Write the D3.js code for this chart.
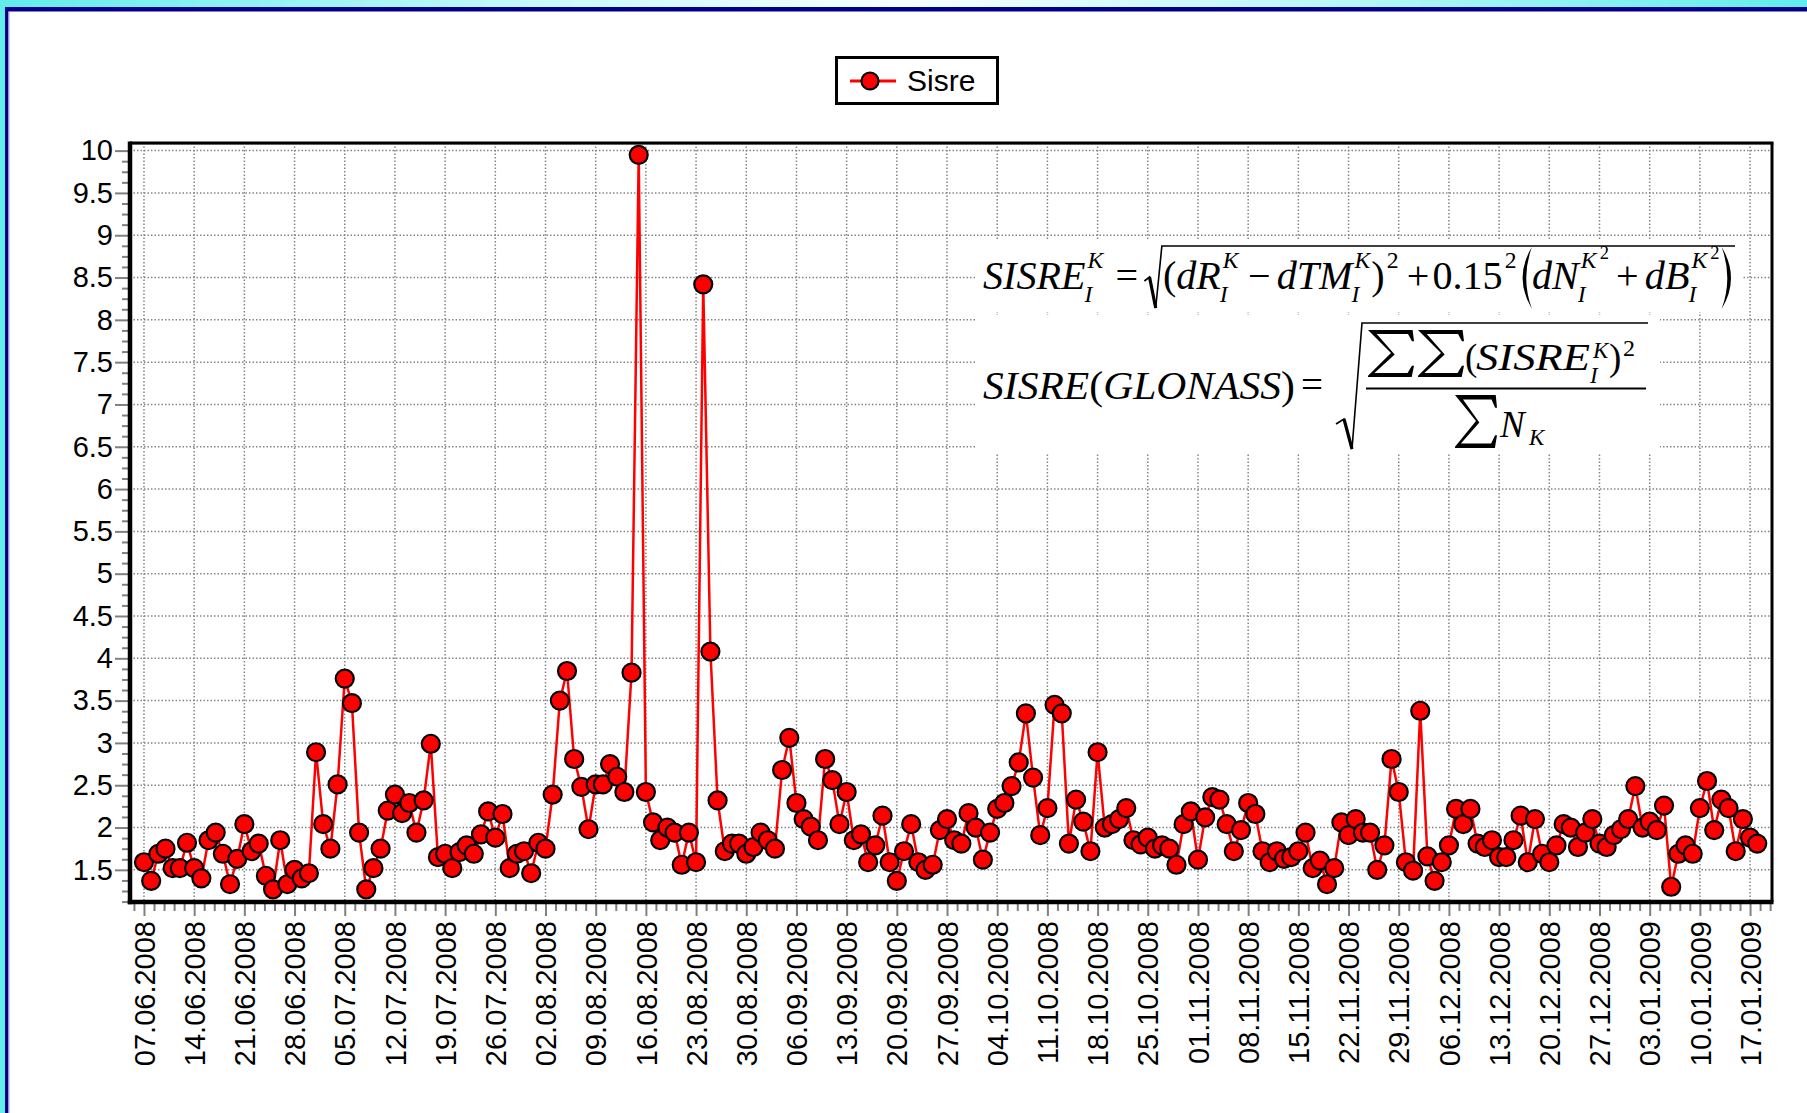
<!DOCTYPE html>
<html>
<head>
<meta charset="utf-8">
<script src="https://d3js.org/d3.v7.min.js"></script>
<style>
  body { margin: 0; background: #fff; }
  svg { display: block; }
</style>
</head>
<body>
<script>
// ---- data ----
var firstDay = "07.06.2008";
var seriesName = "Sisre";
// one value per day, 07.06.2008 .. 18.01.2009
var sisre = [
  1.59, 1.37, 1.69, 1.75, 1.52, 1.52, 1.82, 1.52, 1.40, 1.85,
  1.94, 1.69, 1.33, 1.63, 2.04, 1.72, 1.81, 1.43, 1.27, 1.85,
  1.33, 1.50, 1.40, 1.46, 2.89, 2.04, 1.75, 2.51, 3.76, 3.47,
  1.94, 1.27, 1.52, 1.75, 2.20, 2.39, 2.17, 2.29, 1.94, 2.32,
  2.99, 1.65, 1.69, 1.52, 1.71, 1.79, 1.69, 1.92, 2.19, 1.88,
  2.16, 1.52, 1.69, 1.72, 1.46, 1.82, 1.75, 2.39, 3.50, 3.85,
  2.81, 2.48, 1.98, 2.51, 2.51, 2.75, 2.60, 2.42, 3.83, 9.95,
  2.42, 2.06, 1.85, 2.00, 1.94, 1.56, 1.94, 1.59, 8.42, 4.08,
  2.32, 1.72, 1.81, 1.81, 1.69, 1.77, 1.94, 1.85, 1.75, 2.68,
  3.06, 2.29, 2.10, 2.01, 1.85, 2.81, 2.56, 2.04, 2.42, 1.85,
  1.92, 1.59, 1.79, 2.14, 1.59, 1.37, 1.72, 2.04, 1.59, 1.50,
  1.56, 1.97, 2.10, 1.85, 1.81, 2.17, 2.00, 1.62, 1.94, 2.22,
  2.29, 2.49, 2.77, 3.35, 2.59, 1.91, 2.23, 3.45, 3.35, 1.81,
  2.33, 2.07, 1.72, 2.89, 2.00, 2.04, 2.10, 2.23, 1.85, 1.80,
  1.88, 1.75, 1.79, 1.75, 1.56, 2.04, 2.19, 1.62, 2.12, 2.36,
  2.33, 2.04, 1.72, 1.97, 2.29, 2.16, 1.72, 1.59, 1.72, 1.63,
  1.65, 1.72, 1.94, 1.52, 1.61, 1.33, 1.52, 2.06, 1.91, 2.10,
  1.94, 1.94, 1.50, 1.79, 2.81, 2.42, 1.59, 1.49, 3.38, 1.66,
  1.37, 1.59, 1.79, 2.22, 2.04, 2.22, 1.81, 1.77, 1.85, 1.65,
  1.65, 1.85, 2.14, 1.59, 2.10, 1.69, 1.59, 1.79, 2.04, 2.00,
  1.77, 1.94, 2.10, 1.81, 1.77, 1.91, 1.98, 2.10, 2.49, 2.00,
  2.07, 1.97, 2.26, 1.30, 1.69, 1.79, 1.69, 2.23, 2.55, 1.97,
  2.33, 2.23, 1.72, 2.10, 1.88, 1.81
];
var xTickLabels = [
  "07.06.2008", "14.06.2008", "21.06.2008", "28.06.2008", "05.07.2008", "12.07.2008",
  "19.07.2008", "26.07.2008", "02.08.2008", "09.08.2008", "16.08.2008", "23.08.2008",
  "30.08.2008", "06.09.2008", "13.09.2008", "20.09.2008", "27.09.2008", "04.10.2008",
  "11.10.2008", "18.10.2008", "25.10.2008", "01.11.2008", "08.11.2008", "15.11.2008",
  "22.11.2008", "29.11.2008", "06.12.2008", "13.12.2008", "20.12.2008", "27.12.2008",
  "03.01.2009", "10.01.2009", "17.01.2009"
];
var yTickValues = [1.5, 2, 2.5, 3, 3.5, 4, 4.5, 5, 5.5, 6, 6.5, 7, 7.5, 8, 8.5, 9, 9.5, 10];

// ---- setup ----
var W = 1807, H = 1113;
var box = { l: 130, r: 1772, t: 143, b: 902 };
var DAY = 864e5;
var parse = d3.utcParse("%d.%m.%Y");
var fmt = d3.utcFormat("%d.%m.%Y");
var t0 = parse(firstDay);
function dayDate(d) { return new Date(t0.getTime() + d * DAY); }

var data = sisre.map(function (v, i) { return { date: dayDate(i), v: v }; });
var xTicks = xTickLabels.map(parse);

var x = d3.scaleUtc()
    .domain([dayDate(-1.95), dayDate(227.06)])
    .range([box.l, box.r]);
var y = d3.scaleLinear()
    .domain([1.12, 10.09])
    .range([box.b, box.t]);

var svg = d3.select("body").append("svg")
    .attr("width", W)
    .attr("height", H)
    .style("font-family", "'Liberation Sans', Arial, sans-serif");

// window frame (cyan band + dark blue border)
var grad = svg.append("defs").append("linearGradient")
    .attr("id", "band").attr("x1", 0).attr("x2", 1).attr("y1", 0).attr("y2", 0);
grad.selectAll("stop")
    .data([[0, "#62ecec"], [0.3, "#c8f9f9"], [0.5, "#f6ffff"], [0.75, "#b5f6f6"], [1, "#62ecec"]])
    .enter().append("stop")
    .attr("offset", function (d) { return d[0]; })
    .attr("stop-color", function (d) { return d[1]; });
svg.append("rect").attr("x", 0).attr("y", 0).attr("width", W).attr("height", 7).attr("fill", "url(#band)");
svg.append("rect").attr("x", 0).attr("y", 0).attr("width", 5).attr("height", H).attr("fill", "#62ecec");
svg.append("rect").attr("x", 5).attr("y", 7).attr("width", W - 5).attr("height", 4.5).attr("fill", "#00008b");
svg.append("rect").attr("x", 5).attr("y", 7).attr("width", 3.5).attr("height", H - 7).attr("fill", "#00008b");
svg.append("rect").attr("x", 8.5).attr("y", 11.5).attr("width", 1).attr("height", H - 11.5).attr("fill", "#a8a8e8");

// ---- grid ----
var grid = svg.append("g")
    .attr("stroke", "#858585")
    .attr("stroke-width", 1.5)
    .attr("stroke-dasharray", "1.5,2");
grid.selectAll("line.v")
    .data(xTicks)
    .enter().append("line")
    .attr("class", "v")
    .attr("x1", function (d) { return x(d); })
    .attr("x2", function (d) { return x(d); })
    .attr("y1", box.t)
    .attr("y2", box.b);
grid.selectAll("line.h")
    .data(yTickValues)
    .enter().append("line")
    .attr("class", "h")
    .attr("x1", box.l)
    .attr("x2", box.r)
    .attr("y1", function (d) { return y(d); })
    .attr("y2", function (d) { return y(d); });

// ---- formulas (pasted picture with white background) ----
svg.append("rect").attr("x", 976).attr("y", 239).attr("width", 766).attr("height", 73).attr("fill", "#fff");
svg.append("rect").attr("x", 976).attr("y", 315).attr("width", 684).attr("height", 138).attr("fill", "#fff");

var serif = "'Liberation Serif', 'Times New Roman', serif";

function txt(g, s, tx, ty, size, it) {
  var t = g.append("text").attr("x", tx).attr("y", ty).attr("font-size", size).text(s);
  if (it) t.attr("font-style", "italic");
  return t;
}

function sigma(g, sx, sy, w, h) {
  var p = [[0, 0], [0.97, 0], [1, 0.24], [0.955, 0.24], [0.87, 0.085], [0.19, 0.085], [0.58, 0.52],
           [0.14, 0.915], [0.86, 0.915], [0.955, 0.76], [1, 0.76], [0.95, 1], [0, 1], [0, 0.975], [0.5, 0.49]];
  g.append("path")
    .attr("d", "M" + p.map(function (q) { return (sx + q[0] * w) + "," + (sy + q[1] * h); }).join("L") + "Z")
    .attr("fill", "#000");
}

function bigParen(g, px, top, bot, w, right) {
  var mid = (top + bot) / 2;
  var a = right ? px : px + w, o = right ? px + w * 1.4 : px - w * 0.4, i = right ? px + w * 0.85 : px + w * 0.15;
  g.append("path")
    .attr("d", "M" + a + "," + top + "Q" + o + "," + mid + " " + a + "," + bot + "Q" + i + "," + mid + " " + a + "," + top + "Z")
    .attr("fill", "#000");
}

// formula 1: laid out glyph by glyph, then stretched to the picture width
var f1 = svg.append("g").style("font-family", serif);
(function () {
  var main = 39, scr = 23, ss = 18;
  var base = 289, supB = 268, subB = 302, ssB = 259;
  var cx = 0, radStart = 0, parens = [];
  function T(s, it, gap) {
    cx += gap || 0;
    cx += txt(f1, s, cx, base, main, it).node().getComputedTextLength();
  }
  function S(sup, sub, supsup, upright) {
    var w1 = sup ? txt(f1, sup, cx + 2, supB, scr, !upright).node().getComputedTextLength() + 2 : 0;
    var w2 = sub ? txt(f1, sub, cx - 1, subB, scr, true).node().getComputedTextLength() - 1 : 0;
    var w = Math.max(w1, w2);
    if (supsup) w = w1 + 3 + txt(f1, supsup, cx + w1 + 3, ssB, ss, false).node().getComputedTextLength();
    cx += w + 1;
  }
  T("SISRE", true); S("K", "I");
  T("=", false, 11);
  cx += 6; radStart = cx; cx += 18;
  T("(", false); T("dR", true); S("K", "I");
  T("\u2212", false, 8);
  T("dTM", true, 6); S("K", "I");
  T(")", false); S("2", null, null, true);
  T("+", false, 7);
  T("0.15", false, 3); S("2", null, null, true);
  cx += 1; parens.push([cx, false]); cx += 13;
  T("dN", true); S("K", "I", "2");
  T("+", false, 6);
  T("dB", true, 6); S("K", "I", "2");
  cx += 1; parens.push([cx, true]); cx += 13;
  var endX = cx;
  parens.forEach(function (p) { bigParen(f1, p[0], 247, 309, 13, p[1]); });
  f1.append("path")
    .attr("d", "M" + radStart + ",281L" + (radStart + 5) + ",277L" + (radStart + 11) + ",308L" + (radStart + 17) + ",246H" + endX)
    .attr("fill", "none").attr("stroke", "#000").attr("stroke-width", 1.6)
    .attr("vector-effect", "non-scaling-stroke");
  f1.append("path")
    .attr("d", "M" + (radStart + 5) + ",277L" + (radStart + 11) + ",308")
    .attr("fill", "none").attr("stroke", "#000").attr("stroke-width", 3.2)
    .attr("vector-effect", "non-scaling-stroke");
  var k = (1735 - 983) / endX;
  f1.attr("transform", "translate(983,0) scale(" + k + ",1)");
})();

// formula 2: SISRE(GLONASS) = sqrt( SS (SISRE)^2 / S N_K )
var f2 = svg.append("g").style("font-family", serif);
var lhs = f2.append("text").attr("x", 983).attr("y", 399).attr("font-size", 39)
    .attr("textLength", 312).attr("lengthAdjust", "spacingAndGlyphs");
lhs.append("tspan").attr("font-style", "italic").text("SISRE");
lhs.append("tspan").text("(");
lhs.append("tspan").attr("font-style", "italic").text("GLONASS");
lhs.append("tspan").text(")");
txt(f2, "=", 1301, 398, 39, false);
f2.append("path")
  .attr("d", "M1336,424L1344,419L1352,449L1362,323H1648")
  .attr("fill", "none").attr("stroke", "#000").attr("stroke-width", 1.6);
f2.append("path")
  .attr("d", "M1344,419L1352,449")
  .attr("fill", "none").attr("stroke", "#000").attr("stroke-width", 3.2);
sigma(f2, 1368, 330, 46, 47);
sigma(f2, 1418, 330, 46, 47);
txt(f2, "(", 1465, 370, 37, false);
txt(f2, "SISRE", 1476, 370, 37, true).attr("textLength", 114).attr("lengthAdjust", "spacingAndGlyphs");
txt(f2, "K", 1593, 358, 23, true);
txt(f2, "I", 1590, 383, 23, true);
txt(f2, ")", 1609, 370, 37, false);
txt(f2, "2", 1623, 356, 24, false);
f2.append("line").attr("x1", 1366).attr("x2", 1646).attr("y1", 388.5).attr("y2", 388.5)
  .attr("stroke", "#000").attr("stroke-width", 2);
sigma(f2, 1455, 395, 42, 53);
txt(f2, "N", 1500, 437, 37, true);
txt(f2, "K", 1529, 445, 23, true);

// ---- axes ----
var minorY = d3.range(1.125, 10.09, 0.125).filter(function (v) { return Math.abs(v * 2 - Math.round(v * 2)) > 1e-6; });
var minorDays = d3.range(-1.4, 227, 1.4).filter(function (d) { return Math.abs(d / 7 - Math.round(d / 7)) > 1e-6; });

var yAxis = svg.append("g")
    .attr("transform", "translate(" + box.l + ",0)")
    .call(d3.axisLeft(y).tickValues(yTickValues).tickSize(15).tickPadding(2).tickFormat(d3.format("")));
var yMinor = svg.append("g")
    .attr("transform", "translate(" + box.l + ",0)")
    .call(d3.axisLeft(y).tickValues(minorY).tickSize(8).tickFormat(""));

var xAxis = svg.append("g")
    .attr("transform", "translate(0," + box.b + ")")
    .call(d3.axisBottom(x).tickValues(xTicks).tickSize(14).tickFormat(fmt));
var xMinor = svg.append("g")
    .attr("transform", "translate(0," + box.b + ")")
    .call(d3.axisBottom(x).tickValues(minorDays.map(dayDate)).tickSize(9).tickFormat(""));

[yAxis, yMinor, xAxis, xMinor].forEach(function (a) {
  a.select(".domain").remove();
  a.selectAll(".tick line").attr("stroke", "#808080").attr("stroke-width", 2);
  a.selectAll("text").attr("fill", "#000").attr("font-size", 29).style("font-family", "'Liberation Sans', Arial, sans-serif");
});
xAxis.selectAll("text")
    .attr("transform", "rotate(-90)")
    .attr("x", -19)
    .attr("y", 0)
    .attr("dy", "0.35em")
    .attr("text-anchor", "end");

// plot frame
svg.append("line").attr("x1", box.l).attr("x2", box.r).attr("y1", box.t + 1.5).attr("y2", box.t + 1.5).attr("stroke", "#c0c0c0").attr("stroke-width", 1);
svg.append("line").attr("x1", box.l).attr("x2", box.r + 1.5).attr("y1", box.t).attr("y2", box.t).attr("stroke", "#000").attr("stroke-width", 3);
svg.append("line").attr("x1", box.r).attr("x2", box.r).attr("y1", box.t).attr("y2", box.b).attr("stroke", "#000").attr("stroke-width", 3);
svg.append("line").attr("x1", box.l).attr("x2", box.l).attr("y1", box.t - 1.5).attr("y2", box.b + 2.2).attr("stroke", "#000").attr("stroke-width", 4.5);
svg.append("line").attr("x1", box.l - 2.2).attr("x2", box.r + 1.5).attr("y1", box.b).attr("y2", box.b).attr("stroke", "#000").attr("stroke-width", 4.5);

// ---- series ----
var line = d3.line()
    .x(function (d) { return x(d.date); })
    .y(function (d) { return y(d.v); });

svg.append("path")
    .datum(data)
    .attr("d", line)
    .attr("fill", "none")
    .attr("stroke", "#ff0000")
    .attr("stroke-width", 2.5)
    .attr("stroke-linejoin", "round");

svg.selectAll("circle.pt")
    .data(data)
    .enter().append("circle")
    .attr("class", "pt")
    .attr("cx", function (d) { return x(d.date); })
    .attr("cy", function (d) { return y(d.v); })
    .attr("r", 9)
    .attr("fill", "#ff0000")
    .attr("stroke", "#000")
    .attr("stroke-width", 2.2);

// ---- legend ----
var lg = svg.append("g");
lg.append("rect").attr("x", 836.5).attr("y", 57.5).attr("width", 161).attr("height", 46)
  .attr("fill", "#fff").attr("stroke", "#000").attr("stroke-width", 3);
lg.append("line").attr("x1", 850).attr("x2", 896).attr("y1", 81).attr("y2", 81)
  .attr("stroke", "#ff0000").attr("stroke-width", 3);
lg.append("circle").attr("cx", 870).attr("cy", 81).attr("r", 8.5)
  .attr("fill", "#ff0000").attr("stroke", "#000").attr("stroke-width", 2.2);
lg.append("text").attr("x", 907).attr("y", 91).attr("font-size", 30).attr("fill", "#000").text(seriesName);
</script>
</body>
</html>
